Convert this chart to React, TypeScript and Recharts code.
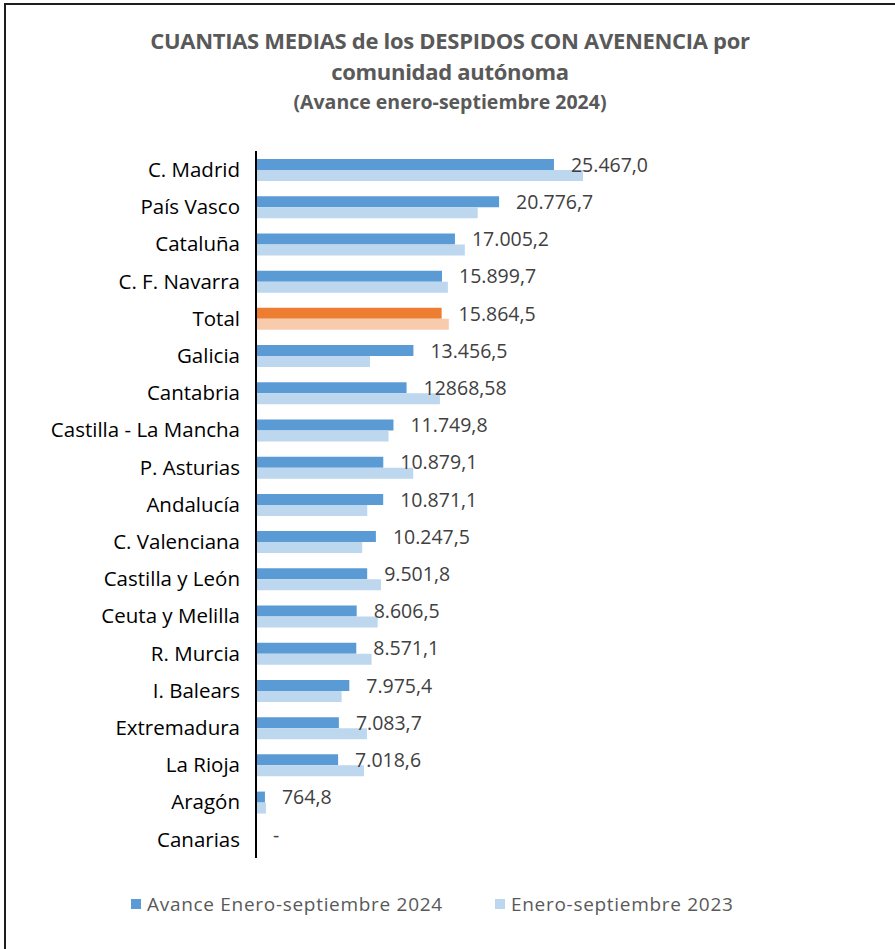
import React from 'react';
import { BarChart, Bar, XAxis, YAxis, Cell, LabelList } from 'recharts';

const regions = [
  'C. Madrid', 'País Vasco', 'Cataluña', 'C. F. Navarra', 'Total', 'Galicia', 'Cantabria',
  'Castilla - La Mancha', 'P. Asturias', 'Andalucía', 'C. Valenciana', 'Castilla y León',
  'Ceuta y Melilla', 'R. Murcia', 'I. Balears', 'Extremadura', 'La Rioja', 'Aragón', 'Canarias',
];

// Avance enero-septiembre 2024
const values2024 = [
  25467.0, 20776.7, 17005.2, 15899.7, 15864.5, 13456.5, 12868.58, 11749.8, 10879.1, 10871.1,
  10247.5, 9501.8, 8606.5, 8571.1, 7975.4, 7083.7, 7018.6, 764.8, 0,
];

// Enero-septiembre 2023
const values2023 = [
  27950, 18950, 17850, 16400, 16480, 9740, 15720, 11330, 13440, 9510,
  9080, 10680, 10400, 9880, 7320, 9480, 9230, 850, 0,
];

const labels2024 = [
  '25.467,0', '20.776,7', '17.005,2', '15.899,7', '15.864,5', '13.456,5', '12868,58', '11.749,8',
  '10.879,1', '10.871,1', '10.247,5', '9.501,8', '8.606,5', '8.571,1', '7.975,4', '7.083,7',
  '7.018,6', '764,8', '-',
];

const seriesNames = ['Avance Enero-septiembre 2024', 'Enero-septiembre 2023'];

const BLUE = '#5B9BD5';
const LIGHT_BLUE = '#BDD7EE';
const ORANGE = '#ED7D31';
const LIGHT_ORANGE = '#F8CBAD';

const data = regions.map((name, i) => ({
  name,
  v2024: values2024[i],
  v2023: values2023[i],
  label: labels2024[i],
}));

const FONT = '"Open Sans", "Noto Sans", sans-serif';

const ValueLabel = (props: any) => {
  const { x, y, width, height, index } = props;
  return (
    <text
      x={x + width + 17}
      y={y + height / 2 + 2}
      fill="#404040"
      fontSize={19.5}
      fontFamily={FONT}
      dominantBaseline="middle"
    >
      {labels2024[index]}
    </text>
  );
};

export default function App() {
  return (
    <div style={{ position: 'absolute', left: 0, top: 0, width: 895, height: 949, background: '#fff', overflow: 'hidden' }}>
      <div
        style={{
          position: 'absolute', left: 4, top: 3, width: 891, height: 946,
          borderLeft: '2px solid #1e1e1e', borderTop: '2px solid #1e1e1e', boxSizing: 'border-box',
        }}
      />
      <div
        style={{
          position: 'absolute', left: 0, top: 25, width: 900, textAlign: 'center',
          fontFamily: FONT, color: '#595959', fontWeight: 700,
        }}
      >
        <div style={{ fontSize: 22, lineHeight: '31px', letterSpacing: -0.3 }}>
          CUANTIAS MEDIAS de los DESPIDOS CON AVENENCIA por
        </div>
        <div style={{ fontSize: 22, lineHeight: '31px', letterSpacing: -0.3 }}>comunidad autónoma</div>
        <div style={{ fontSize: 19.5, lineHeight: '30px', letterSpacing: 0 }}>(Avance enero-septiembre 2024)</div>
      </div>

      <div style={{ position: 'absolute', left: 0, top: 0 }}>
        <BarChart
          width={895}
          height={949}
          data={data}
          layout="vertical"
          margin={{ top: 151, right: 288, bottom: 91, left: 0 }}
          barGap={0}
        >
          <XAxis type="number" domain={[0, 30000]} hide />
          <YAxis
            type="category"
            dataKey="name"
            width={256}
            tickLine={false}
            tickSize={0}
            tickMargin={16}
            axisLine={{ stroke: '#000', strokeWidth: 2 }}
            tick={{ fill: '#000', fontSize: 20.5, fontFamily: FONT }}
            interval={0}
          />
          <Bar dataKey="v2024" barSize={11} fill={BLUE} minPointSize={0.01} isAnimationActive={false}>
            {data.map((d, i) => (
              <Cell key={`a-${i}`} fill={d.name === 'Total' ? ORANGE : BLUE} />
            ))}
            <LabelList dataKey="label" content={ValueLabel} />
          </Bar>
          <Bar dataKey="v2023" barSize={11} fill={LIGHT_BLUE} isAnimationActive={false}>
            {data.map((d, i) => (
              <Cell key={`b-${i}`} fill={d.name === 'Total' ? LIGHT_ORANGE : LIGHT_BLUE} />
            ))}
          </Bar>
        </BarChart>
      </div>

      <div
        style={{
          position: 'absolute', left: 0, top: 891, width: 895,
          fontFamily: FONT, fontSize: 19, letterSpacing: 0.7, color: '#595959',
        }}
      >
        <div style={{ position: 'absolute', left: 131, top: 0, display: 'flex', alignItems: 'center' }}>
          <span style={{ width: 10, height: 10, background: BLUE, display: 'inline-block', marginRight: 6 }} />
          <span style={{ whiteSpace: 'nowrap' }}>{seriesNames[0]}</span>
        </div>
        <div style={{ position: 'absolute', left: 495, top: 0, display: 'flex', alignItems: 'center' }}>
          <span style={{ width: 10, height: 10, background: LIGHT_BLUE, display: 'inline-block', marginRight: 6 }} />
          <span style={{ whiteSpace: 'nowrap' }}>{seriesNames[1]}</span>
        </div>
      </div>
    </div>
  );
}
